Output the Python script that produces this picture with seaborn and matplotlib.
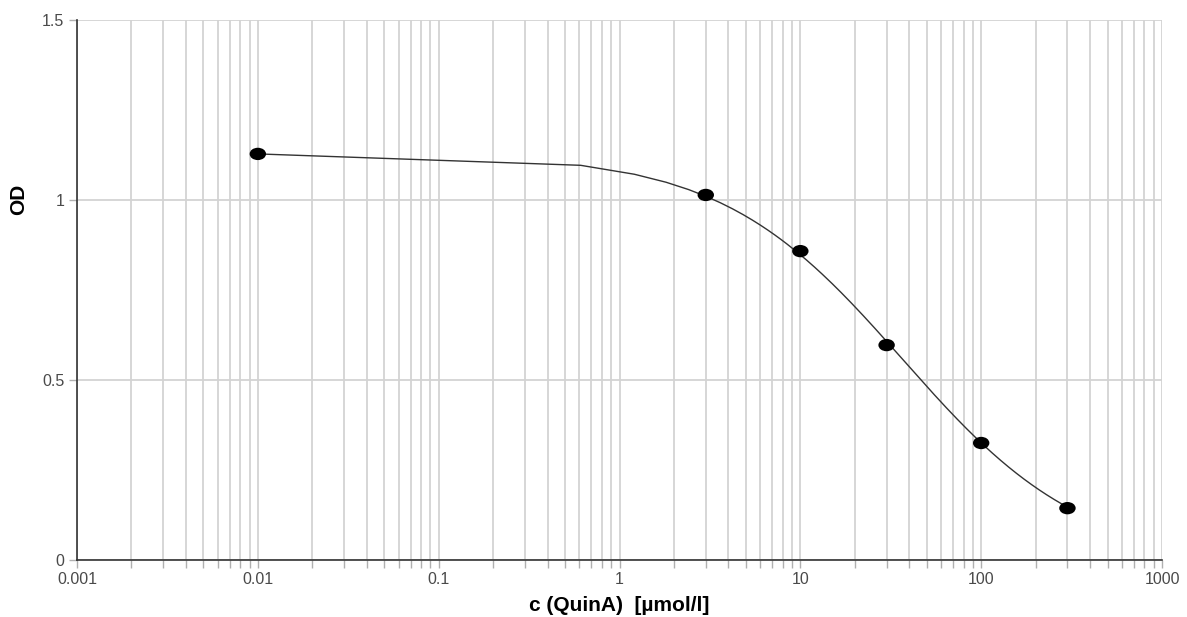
import numpy as np
import pandas as pd
import matplotlib
matplotlib.use("Agg")
import matplotlib.pyplot as plt
from matplotlib.path import Path
from matplotlib.ticker import LogLocator, FixedLocator, NullFormatter
import seaborn as sns

# ---- data ----
conc = [0.01, 3, 10, 30, 100, 300]
od = [1.128, 1.014, 0.858, 0.597, 0.325, 0.144]
x_ticks = [0.001, 0.01, 0.1, 1, 10, 100, 1000]
x_tick_labels = ["0.001", "0.01", "0.1", "1", "10", "100", "1000"]
y_ticks = [0, 0.5, 1, 1.5]
y_tick_labels = ["0", "0.5", "1", "1.5"]
x_label = "c (QuinA)  [µmol/l]"
y_label = "OD"

# ---- 4-parameter logistic fit (grid over top/bottom, linear fit of logit) ----
xa = np.array(conc, float)
ya = np.array(od, float)
best = None
for top in np.linspace(ya.max() + 0.001, ya.max() + 0.1, 100):
    for bot in np.linspace(-0.3, ya.min() - 0.001, 150):
        z = np.log((top - ya) / (ya - bot))
        B, a = np.polyfit(np.log(xa), z, 1)
        C = np.exp(-a / B)
        pred = bot + (top - bot) / (1 + (xa / C) ** B)
        sse = np.sum((pred - ya) ** 2)
        if best is None or sse < best[0]:
            best = (sse, top, bot, B, C)
_, top, bot, B, C = best
xfit = np.linspace(xa.min(), xa.max(), 501)
yfit = bot + (top - bot) / (1 + (xfit / C) ** B)

points = pd.DataFrame({"conc": conc, "od": od})
curve = pd.DataFrame({"conc": xfit, "od": yfit})

# ---- figure ----
sns.set_theme(style="white")
plt.rcParams["font.family"] = ["Liberation Sans", "DejaVu Sans"]

fig = plt.figure(figsize=(11.87, 6.17), dpi=100)
ax = fig.add_axes([77 / 1187, 57 / 617, (1162 - 77) / 1187, (560 - 20) / 617])

ax.set_xscale("log")
ax.set_xlim(0.001, 1000)
ax.set_ylim(0, 1.5)

grid_c = "#d3d3d3"
ax.xaxis.set_major_locator(FixedLocator(x_ticks))
ax.set_xticklabels(x_tick_labels)
ax.xaxis.set_minor_locator(LogLocator(base=10, subs=np.arange(2, 10), numticks=100))
ax.xaxis.set_minor_formatter(NullFormatter())
ax.set_yticks(y_ticks)
ax.set_yticklabels(y_tick_labels)

ax.grid(True, which="major", axis="both", color=grid_c, linewidth=1.3)
ax.grid(True, which="minor", axis="x", color=grid_c, linewidth=1.3)
ax.set_axisbelow(True)

ax.tick_params(axis="x", which="both", direction="out", length=6, width=1,
               color="#b0b0b0", bottom=True, labelsize=11.5, labelcolor="#4a4a4a", pad=3)
ax.tick_params(axis="y", which="both", direction="out", length=6, width=1,
               color="#b0b0b0", left=True, labelsize=11.5, labelcolor="#4a4a4a", pad=3)

for s in ["top", "right"]:
    ax.spines[s].set_visible(False)
for s in ["left", "bottom"]:
    ax.spines[s].set_color("#333333")
    ax.spines[s].set_linewidth(1.2)
    ax.spines[s].set_zorder(3)

sns.lineplot(data=curve, x="conc", y="od", ax=ax, color="#333333",
             linewidth=1.0, sort=False, zorder=4)

circ = Path.unit_circle()
ellipse = Path(circ.vertices * np.array([1.0, 0.75]), circ.codes)
sns.scatterplot(data=points, x="conc", y="od", ax=ax, marker=ellipse,
                s=140, color="black", edgecolor="none", zorder=5, clip_on=False)

ax.set_xlabel(x_label, fontsize=15, fontweight="bold", color="black", labelpad=6)
ax.set_ylabel(y_label, fontsize=15, fontweight="bold", color="black")
ax.yaxis.set_label_coords(-0.045, 0.667)

fig.savefig("out.png", dpi=100)
